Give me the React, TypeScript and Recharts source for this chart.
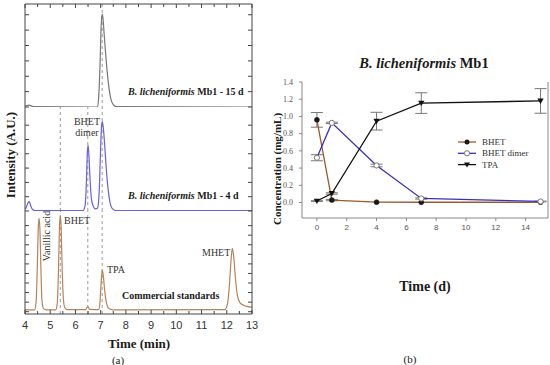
import React from 'react';
import { LineChart, Line, XAxis, YAxis, ErrorBar, Legend, ReferenceLine } from 'recharts';

// (a) HPLC chromatograms, retention time (min) vs. intensity (arbitrary units)
const day15Time = [4.0, 4.08, 4.16, 4.26, 4.4, 6.88, 6.93, 6.98, 7.02, 7.06, 7.09, 7.14, 7.22, 7.31, 7.4, 7.5, 7.62, 13.0];
const day15Signal = [0.03, 0.1, 0.12, 0.06, 0.02, 0.0, 0.9, 3.0, 5.3, 6.05, 5.8, 4.7, 3.0, 1.5, 0.55, 0.15, 0.02, 0.0];

const day4Time = [4.0, 4.06, 4.12, 4.17, 4.22, 4.3, 4.42, 6.3, 6.38, 6.43, 6.47, 6.5, 6.53, 6.58, 6.63, 6.7, 6.8, 6.88, 6.94, 6.99, 7.03, 7.06, 7.1, 7.16, 7.22, 7.29, 7.37, 7.47, 7.62, 13.0];
const day4Signal = [0.12, 0.3, 0.58, 0.65, 0.4, 0.1, 0.02, 0.02, 0.35, 1.8, 4.0, 4.6, 4.0, 2.2, 0.9, 0.35, 0.15, 0.22, 1.3, 3.9, 5.8, 6.25, 5.9, 4.6, 3.0, 1.6, 0.6, 0.15, 0.03, 0.02];

const stdTime = [4.0, 4.38, 4.44, 4.49, 4.53, 4.56, 4.59, 4.63, 4.67, 4.73, 4.85, 5.22, 5.28, 5.33, 5.37, 5.4, 5.43, 5.47, 5.52, 5.58, 5.7, 6.4, 6.46, 6.5, 6.56, 6.92, 6.97, 7.02, 7.06, 7.1, 7.16, 7.24, 7.34, 7.48, 11.92, 12.02, 12.1, 12.17, 12.22, 12.27, 12.34, 12.42, 12.52, 12.65, 12.8, 13.0];
const stdSignal = [0.2, 0.2, 1.0, 5.0, 9.0, 9.77, 8.7, 4.6, 1.3, 0.35, 0.2, 0.2, 0.9, 4.6, 9.1, 10.0, 9.1, 4.9, 1.4, 0.4, 0.22, 0.22, 0.45, 0.5, 0.24, 0.22, 0.9, 3.1, 4.36, 3.9, 2.2, 0.8, 0.3, 0.2, 0.22, 0.7, 2.6, 5.4, 6.63, 5.9, 3.6, 1.7, 0.95, 0.7, 0.55, 0.45];

const markerTimes = [5.4, 6.49, 7.06];
const timeTicks = [4, 4.5, 5, 5.5, 6, 6.5, 7, 7.5, 8, 8.5, 9, 9.5, 10, 10.5, 11, 11.5, 12, 12.5, 13];

// (b) concentrations over time
const days = [0, 1, 4, 7, 15];
const bhet = [0.96, 0.028, 0.004, 0.003, 0.003];
const bhetErr = [0.085, 0.008, 0, 0, 0];
const dimer = [0.52, 0.925, 0.43, 0.047, 0.012];
const dimerErr = [0.035, 0.008, 0.015, 0.008, 0.004];
const tpa = [0.017, 0.105, 0.945, 1.155, 1.18];
const tpaErr = [0.004, 0.008, 0.103, 0.12, 0.143];
const dayTicks = [0, 2, 4, 6, 8, 10, 12, 14];
const concTicks = [0, 0.2, 0.4, 0.6, 0.8, 1.0, 1.2, 1.4];

const toSeries = (t: number[], v: number[]) => t.map((x, i) => ({ t: x, v: v[i] }));
const day15Data = toSeries(day15Time, day15Signal);
const day4Data = toSeries(day4Time, day4Signal);
const stdData = toSeries(stdTime, stdSignal);
const concData = days.map((d, i) => ({
  day: d,
  bhet: bhet[i], bhetErr: bhetErr[i],
  dimer: dimer[i], dimerErr: dimerErr[i],
  tpa: tpa[i], tpaErr: tpaErr[i],
}));

const serif = '"Liberation Serif", "Times New Roman", serif';
const sans = '"Liberation Sans", Arial, sans-serif';
const axisColor = '#444';

const Txt = ({ x, y, children, size = 11, bold = false, rot = 0, start = false, color = '#1a1a1a' }: any) => (
  <div
    style={{
      position: 'absolute', left: x, top: y, fontSize: size, lineHeight: 1,
      fontWeight: bold ? 'bold' : 'normal', color, whiteSpace: 'nowrap',
      transform: `translate(${start ? '0' : '-50%'}, -50%)${rot ? ` rotate(${rot}deg)` : ''}`,
    }}
  >
    {children}
  </div>
);

// inward tick marks for the chromatogram frame
const leftTick = (p: any) => <line x1={p.x} x2={p.x + 4} y1={p.y} y2={p.y} stroke={axisColor} />;
const rightTick = (p: any) => <line x1={p.x} x2={p.x - 4} y1={p.y} y2={p.y} stroke={axisColor} />;
const topTick = (p: any) => (
  <line x1={p.x} x2={p.x} y1={p.y} y2={p.y + (Number.isInteger(p.payload.value) ? 4 : 3)} stroke={axisColor} />
);
const bottomTick = (p: any) => {
  const v = p.payload.value;
  const major = Number.isInteger(v);
  return (
    <g>
      <line x1={p.x} x2={p.x} y1={p.y} y2={p.y - (major ? 4 : 3)} stroke={axisColor} />
      {major && (
        <text x={p.x} y={p.y + 15} textAnchor="middle" fontSize={11} fontFamily={sans} fill="#333">{v}</text>
      )}
    </g>
  );
};

const Chromatogram = ({ data, color, top, height, mt, mb, yDomain, yTicks, refs, first, last }: any) => (
  <div style={{ position: 'absolute', left: 15, top }}>
    <LineChart width={247} height={height} data={data} margin={{ top: mt, right: 9, bottom: mb, left: 9 }}>
      <XAxis
        dataKey="t" type="number" domain={[4, 13]} allowDataOverflow ticks={timeTicks} interval={0}
        orientation={first ? 'top' : 'bottom'} hide={!first && !last} height={1}
        stroke={axisColor} tickSize={0} tickMargin={0} tickLine={false}
        tick={first ? topTick : bottomTick}
      />
      <YAxis domain={yDomain} allowDataOverflow ticks={yTicks} interval={0} width={1} stroke={axisColor}
        tickSize={0} tickMargin={0} tickLine={false} tick={leftTick} />
      <YAxis yAxisId="r" orientation="right" domain={yDomain} allowDataOverflow ticks={yTicks} interval={0} width={1}
        stroke={axisColor} tickSize={0} tickMargin={0} tickLine={false} tick={rightTick} />
      {refs.map((x: number) => (
        <ReferenceLine key={x} x={x} stroke="#9a9a9a" strokeDasharray="3 3" />
      ))}
      <Line type="monotone" dataKey="v" stroke={color} strokeWidth={1.2} dot={false} isAnimationActive={false} />
    </LineChart>
  </div>
);

const triangleDot = (p: any) => (
  <path key={`tri-${p.index}`} d={`M${p.cx - 3.2},${p.cy - 2.4}L${p.cx + 3.2},${p.cy - 2.4}L${p.cx},${p.cy + 3}Z`} fill="#111" />
);

const legendMarks: Record<string, (x: number, y: number) => React.ReactNode> = {
  BHET: (x, y) => <circle cx={x} cy={y} r={2.5} fill="#1a1a1a" />,
  'BHET dimer': (x, y) => <circle cx={x} cy={y} r={2.6} fill="#fff" stroke="#777" />,
  TPA: (x, y) => <path d={`M${x - 3},${y - 2.2}L${x + 3},${y - 2.2}L${x},${y + 2.8}Z`} fill="#111" />,
};

const ConcLegend = ({ payload }: any) => (
  <svg width={100} height={36}>
    {(payload || []).map((item: any, i: number) => {
      const y = 5 + i * 11.3;
      return (
        <g key={item.value}>
          <line x1={0} x2={18} y1={y} y2={y} stroke={item.color} strokeWidth={1.3} />
          {legendMarks[item.value]?.(9, y)}
          <text x={24} y={y + 3} fontSize={9} fontFamily={serif} fill="#333">{item.value}</text>
        </g>
      );
    })}
  </svg>
);

export default function App() {
  return (
    <div style={{ position: 'absolute', left: 0, top: 0, width: 550, height: 365, background: '#fff', fontFamily: serif }}>
      {/* (a) */}
      <Chromatogram data={day15Data} color="#777" top={0} height={112} mt={3} mb={5}
        yDomain={[0, 6.7]} yTicks={[0, 1, 2, 3, 4, 5, 6]} refs={[7.06]} first />
      <Chromatogram data={day4Data} color="#6a60d8" top={100} height={116} mt={7} mb={5}
        yDomain={[0, 7.27]} yTicks={[0, 1, 2, 3, 4, 5, 6]} refs={markerTimes} />
      <Chromatogram data={stdData} color="#b5835a" top={204} height={140} mt={7} mb={29}
        yDomain={[-0.24, 10.53]} yTicks={[0, 1, 2, 3, 4, 5, 6, 7, 8, 9]} refs={markerTimes} last />

      <Txt x={10} y={155} size={13} bold rot={-90}>Intensity (A.U.)</Txt>
      <Txt x={139} y={343} size={13} bold>Time (min)</Txt>
      <Txt x={118} y={360} size={11}>(a)</Txt>
      <Txt x={128} y={92} size={10} bold start><i>B. licheniformis</i> Mb1 - 15 d</Txt>
      <Txt x={128} y={196} size={10} bold start><i>B. licheniformis</i> Mb1 - 4 d</Txt>
      <Txt x={87} y={122} size={10} color="#333">BHET</Txt>
      <Txt x={87} y={133} size={10} color="#333">dimer</Txt>
      <Txt x={47} y={236} size={10} rot={-90} color="#333">Vanillic acid</Txt>
      <Txt x={64} y={221} size={10} start color="#333">BHET</Txt>
      <Txt x={107} y={270} size={10} start color="#333">TPA</Txt>
      <Txt x={202} y={253} size={10} start color="#333">MHET</Txt>
      <Txt x={122} y={296} size={10} bold start>Commercial standards</Txt>

      {/* (b) */}
      <div style={{ position: 'absolute', left: 270, top: 40 }}>
        <LineChart width={280} height={270} data={concData} margin={{ top: 42, right: 2, bottom: 27, left: 2 }}>
          <XAxis dataKey="day" type="number" domain={[-1, 15.5]} allowDataOverflow ticks={dayTicks} interval={0}
            height={25} stroke="#888" tickSize={3} tickMargin={3}
            tick={{ fontSize: 8, fill: '#555', fontFamily: sans }} />
          <YAxis domain={[-0.18, 1.4]} allowDataOverflow ticks={concTicks} interval={0} width={30}
            stroke="#888" tickSize={3} tickMargin={6} tickFormatter={(v: number) => v.toFixed(1)}
            tick={{ fontSize: 8, fill: '#555', fontFamily: serif }} />
          <ReferenceLine x={15.5} stroke="#888" />
          <Line type="linear" dataKey="bhet" name="BHET" stroke="#9c5a2c" strokeWidth={1.3}
            dot={{ r: 2.5, fill: '#1a1a1a', stroke: '#1a1a1a', strokeWidth: 0.5 }} isAnimationActive={false}>
            <ErrorBar dataKey="bhetErr" width={6} stroke="#777" strokeWidth={1} isAnimationActive={false} />
          </Line>
          <Line type="linear" dataKey="dimer" name="BHET dimer" stroke="#3a2fbf" strokeWidth={1.3}
            dot={{ r: 2.6, fill: '#fff', stroke: '#777', strokeWidth: 1 }} isAnimationActive={false}>
            <ErrorBar dataKey="dimerErr" width={6} stroke="#777" strokeWidth={1} isAnimationActive={false} />
          </Line>
          <Line type="linear" dataKey="tpa" name="TPA" stroke="#111" strokeWidth={1.3}
            dot={triangleDot} isAnimationActive={false}>
            <ErrorBar dataKey="tpaErr" width={6} stroke="#777" strokeWidth={1} isAnimationActive={false} />
          </Line>
          <Legend content={ConcLegend} layout="vertical"
            wrapperStyle={{ position: 'absolute', left: 188, top: 97, width: 100, bottom: 'auto', right: 'auto' }} />
        </LineChart>
      </div>

      <Txt x={424} y={63} size={14.5} bold><i>B. licheniformis</i> Mb1</Txt>
      <Txt x={277} y={169} size={11} bold rot={-90}>Concentration (mg/mL)</Txt>
      <Txt x={425} y={287} size={14} bold>Time (d)</Txt>
      <Txt x={410} y={359} size={11}>(b)</Txt>
    </div>
  );
}
